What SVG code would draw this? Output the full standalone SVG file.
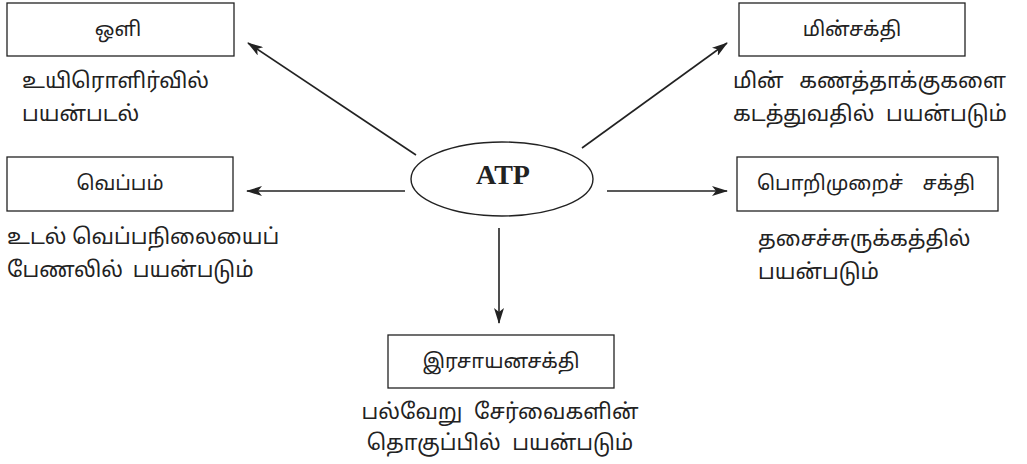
<svg xmlns="http://www.w3.org/2000/svg" width="1027" height="464" viewBox="0 0 1027 464">
<style>
.box{fill:#fff;stroke:#222;stroke-width:1.3}
.lbl{font-family:"Noto Sans Tamil","Lohit Tamil","Noto Sans",sans-serif;font-size:20px;fill:#222}
.txt{font-family:"Noto Sans Tamil","Lohit Tamil","Noto Sans",sans-serif;font-size:21.5px;fill:#222}
.con{stroke:#222;stroke-width:1.6;fill:none;marker-end:url(#ah)}
</style>
<defs>
<marker id="ah" viewBox="0 0 16 10" refX="15" refY="5" markerWidth="16" markerHeight="10" markerUnits="userSpaceOnUse" orient="auto">
<path d="M0,0 L16,5 L0,10 L4,5 Z" fill="#222"/>
</marker>
</defs>
<rect width="1027" height="464" fill="#fff"/>
<g id="connectors">
<line class="con" x1="416" y1="155" x2="248" y2="43"/>
<line class="con" x1="582" y1="148" x2="727" y2="43"/>
<line class="con" x1="405" y1="191" x2="247" y2="191"/>
<line class="con" x1="607" y1="191" x2="727" y2="191"/>
<line class="con" x1="499" y1="228" x2="499" y2="323"/>
</g>
<g id="atp">
<ellipse cx="502" cy="179" rx="91" ry="37" fill="#fff" stroke="#222" stroke-width="1.4"/>
<text x="503" y="184" text-anchor="middle" font-family="Liberation Serif,serif" font-weight="bold" font-size="28" fill="#222">ATP</text>
</g>
<g id="oli">
<rect class="box" x="7" y="3" width="227" height="53"/>
<text class="lbl" x="118" y="36" text-anchor="middle">ஒளி</text>
<text class="txt" x="22" y="88">உயிரொளிர்வில்</text>
<text class="txt" x="22" y="121">பயன்படல்</text>
</g>
<g id="minsakthi">
<rect class="box" x="739" y="3" width="226" height="53"/>
<text class="lbl" x="852" y="36" text-anchor="middle">மின்சக்தி</text>
<text class="txt" x="733" y="88" word-spacing="10">மின் கணத்தாக்குகளை</text>
<text class="txt" x="733" y="121" word-spacing="6">கடத்துவதில் பயன்படும்</text>
</g>
<g id="veppam">
<rect class="box" x="7" y="157" width="226" height="54"/>
<text class="lbl" x="120" y="190" text-anchor="middle">வெப்பம்</text>
<text class="txt" x="7" y="244">உடல் வெப்பநிலையைப்</text>
<text class="txt" x="7" y="277" word-spacing="4">பேணலில் பயன்படும்</text>
</g>
<g id="porimurai">
<rect class="box" x="737" y="157" width="261" height="54"/>
<text class="lbl" x="866" y="190" text-anchor="middle" word-spacing="14">பொறிமுறைச் சக்தி</text>
<text class="txt" x="758" y="246">தசைச்சுருக்கத்தில்</text>
<text class="txt" x="758" y="279">பயன்படும்</text>
</g>
<g id="irasayana">
<rect class="box" x="388" y="335" width="226" height="53"/>
<text class="lbl" x="501" y="368" text-anchor="middle">இரசாயனசக்தி</text>
<text class="txt" x="500" y="419" text-anchor="middle" word-spacing="6">பல்வேறு சேர்வைகளின்</text>
<text class="txt" x="500" y="450" text-anchor="middle" word-spacing="6">தொகுப்பில் பயன்படும்</text>
</g>
</svg>
